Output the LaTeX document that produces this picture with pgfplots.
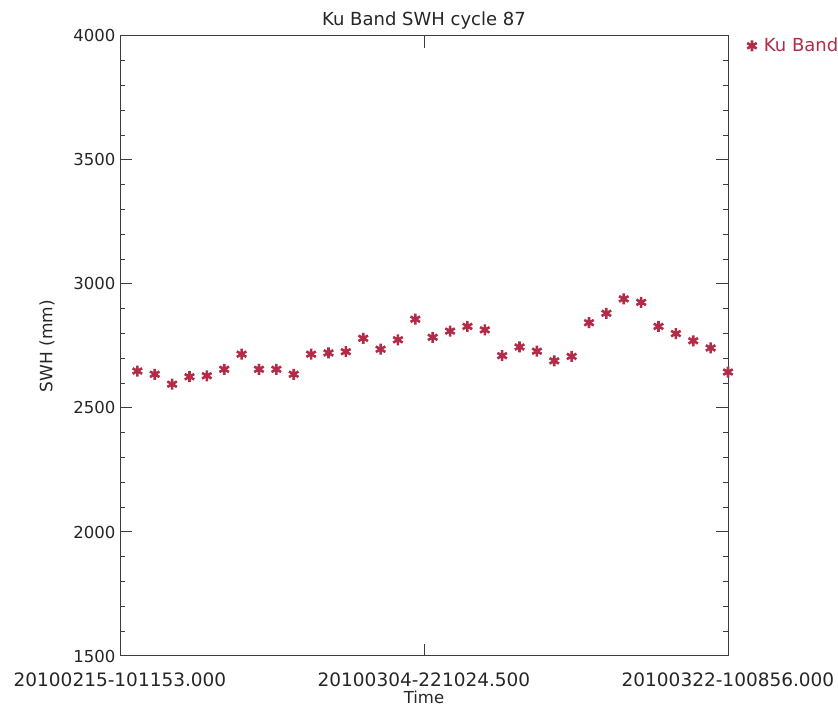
\documentclass[border=0pt]{standalone}
\usepackage{fontspec}
\setmainfont{DejaVu Sans}
\usepackage{pgfplots}
\pgfplotsset{compat=1.18}
\definecolor{ku}{RGB}{178,44,72}
\definecolor{axc}{RGB}{60,60,60}
\begin{document}
\begin{tikzpicture}[x=1pt,y=1pt]
\path[use as bounding box] (0,0) rectangle (838,711);
\begin{axis}[
  at={(120pt,55pt)}, anchor=south west,
  scale only axis, width=608pt, height=620pt,
  xmin=-1, xmax=34, ymin=1500, ymax=4000,
  axis line style={axc, line width=1pt},
  every tick/.style={axc, line width=1pt},
  xtick={-1,16.5,34},
  xticklabels={20100215-101153.000,20100304-221024.500,20100322-100856.000},
  ytick={1500,2000,2500,3000,3500,4000},
  yticklabels={1500,2000,2500,3000,3500,4000},
  minor y tick num=4,
  major tick length=12pt, minor tick length=5pt,
  tick align=inside,
  xticklabel style={font=\fontsize{18.5}{21}\selectfont, color=black!85, yshift=-13pt},
  yticklabel style={font=\fontsize{16.5}{19}\selectfont, color=black!85, xshift=-1pt},
  title={Ku Band SWH cycle 87},
  title style={font=\fontsize{18}{20}\selectfont, color=black!85, yshift=-3pt},
  xlabel={Time},
  xlabel style={font=\fontsize{16.5}{19}\selectfont, color=black!85, yshift=2pt},
  ylabel={SWH (mm)},
  ylabel style={font=\fontsize{17}{19}\selectfont, color=black!85, yshift=12pt},
  legend style={at={(1,1)}, anchor=north west, xshift=16pt, yshift=2pt, draw=none, fill=none,
    font=\fontsize{18}{20}\selectfont, text=ku},
  legend cell align=left,
  legend image code/.code={\path[draw=none,fill=none] (0pt,0pt) -- (10pt,0pt); \draw[#1] plot coordinates {(0pt,0pt)};},
]
\addplot[only marks, mark=asterisk, color=ku, mark size=5.5pt, mark options={line width=2.6pt}]
coordinates {
(0,2649) (1,2636) (2,2596) (3,2626) (4,2630) (5,2656) (6,2717) (7,2656) (8,2656) (9,2636)
(10,2717) (11,2722) (12,2727) (13,2781) (14,2737) (15,2775) (16,2858) (17,2785) (18,2810) (19,2829)
(20,2815) (21,2711) (22,2746) (23,2729) (24,2690) (25,2708) (26,2844) (27,2882) (28,2940) (29,2926)
(30,2829) (31,2800) (32,2771) (33,2742) (34,2645)
};
\addlegendentry{Ku Band}
\end{axis}
\end{tikzpicture}
\end{document}
